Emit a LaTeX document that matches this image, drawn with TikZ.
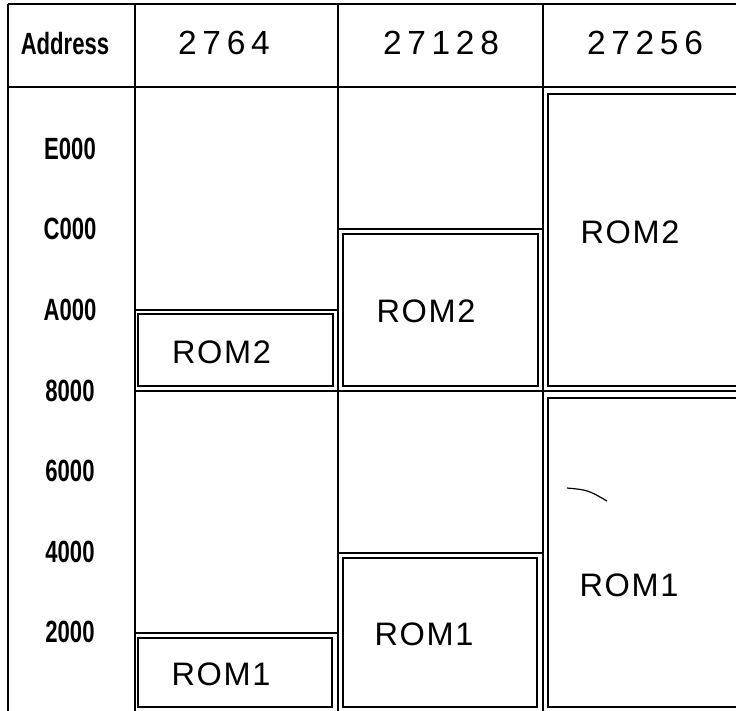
\documentclass[tikz,border=0pt]{standalone}
\usepackage{fontspec}
\setmainfont{Liberation Sans}
\newfontfamily\narrowbold{Liberation Sans}[FakeStretch=0.72]
\newfontfamily\spacedfont{Liberation Sans}[LetterSpace=17]
\newfontfamily\romfont{Liberation Sans}[LetterSpace=5]
\begin{document}
\begin{tikzpicture}[x=1pt,y=-1pt,
  cell/.style={line width=1.7pt},
  rombox/.style={line width=2.5pt},
  addr/.style={font=\narrowbold\bfseries\fontsize{30.7}{32}\selectfont, inner sep=0pt},
  chip/.style={font=\spacedfont\fontsize{33.5}{35}\selectfont, inner sep=0pt},
  romlabel/.style={font=\romfont\fontsize{32.5}{34}\selectfont, inner sep=0pt}]
\useasboundingbox (0,0) rectangle (736,710);
\clip (0,0) rectangle (736,710);
% table grid
\draw[cell] (8,4) -- (760,4);
\draw[cell] (8,4) -- (8,720);
\draw[cell] (135,4) -- (135,720);
\draw[cell] (338,4) -- (338,720);
\draw[cell] (543,4) -- (543,720);
\draw[cell] (8,87) -- (760,87);
\draw[cell] (135,391) -- (760,391);
\draw[cell] (135,310) -- (338,310);
\draw[cell] (135,633) -- (338,633);
\draw[cell] (338,229) -- (543,229);
\draw[cell] (338,553) -- (543,553);
% ROM boxes
\draw[rombox] (138,314) rectangle (333,386);
\draw[rombox] (138,638) rectangle (332,707);
\draw[rombox] (343,234) rectangle (538,386);
\draw[rombox] (343,558) rectangle (537,707);
\draw[rombox] (548,94) rectangle (770,386);
\draw[rombox] (548,398) rectangle (770,707);
% stray mark
\draw[line width=1.2pt] (567,488) .. controls (588,490) .. (607,501);
% header
\node[addr] (hAddr) at (65,44) {Address};
\node[chip] (h2764) at (224,43) {2764};
\node[chip] (h27128) at (441,43) {27128};
\node[chip] (h27256) at (645,43) {27256};
% addresses
\node[addr] (aE) at (70,149) {E000};
\node[addr] (aC) at (70,229) {C000};
\node[addr] (aA) at (70,310) {A000};
\node[addr] (a8) at (70,391) {8000};
\node[addr] (a6) at (70,471) {6000};
\node[addr] (a4) at (70,552) {4000};
\node[addr] (a2) at (70,632) {2000};
% ROM labels
\node[romlabel] (r2a) at (221.5,352) {ROM2};
\node[romlabel] (r1a) at (221,674) {ROM1};
\node[romlabel] (r2b) at (426,311) {ROM2};
\node[romlabel] (r1b) at (424,634) {ROM1};
\node[romlabel] (r2c) at (630,232) {ROM2};
\node[romlabel] (r1c) at (629,585) {ROM1};
\end{tikzpicture}
\end{document}
